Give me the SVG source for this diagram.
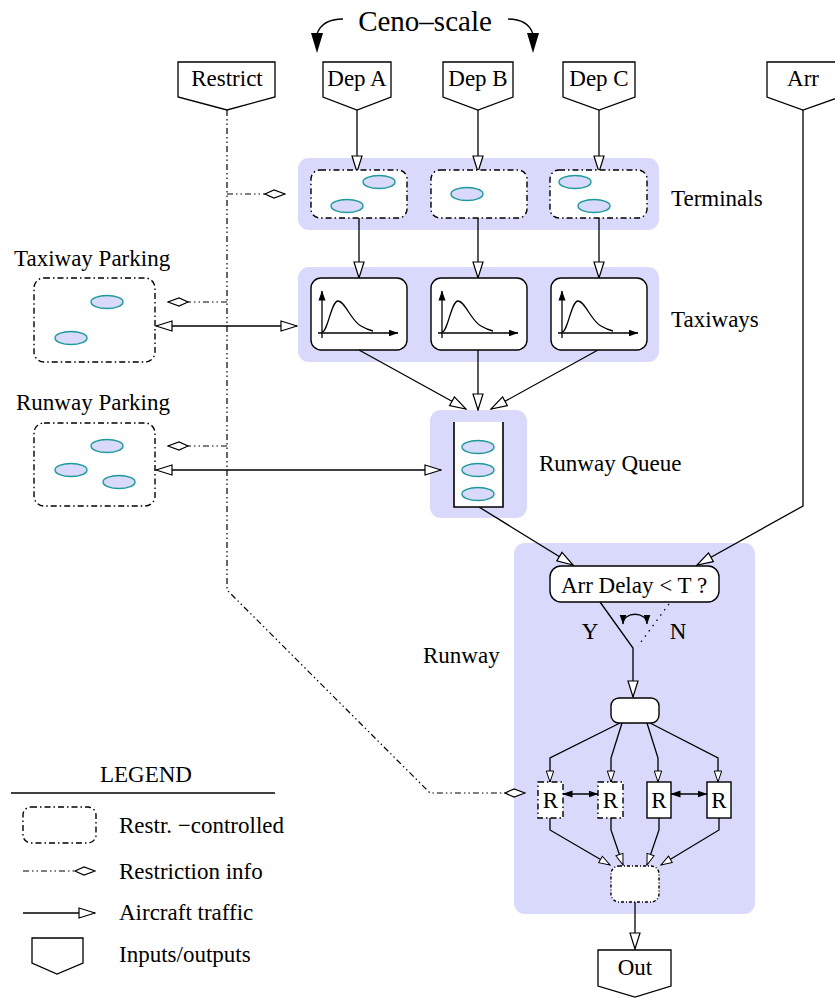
<svg xmlns="http://www.w3.org/2000/svg" width="835" height="998" viewBox="0 0 835 998">
<style>
text{font-family:"Liberation Serif","Times New Roman",serif;font-size:23px;fill:#000}
.bg{fill:#d9d9fb;stroke:none}
.ell{fill:#d9d9fb;stroke:#1a9a9a;stroke-width:1.4}
.rc{fill:#fff;stroke:#000;stroke-width:1.4;stroke-dasharray:6 3 1.5 3}
.box{fill:#fff;stroke:#000;stroke-width:1.4}
.io{fill:#fff;stroke:#000;stroke-width:1.3}
.ln{fill:none;stroke:#000;stroke-width:1.3}
.rs{fill:none;stroke:#000;stroke-width:1.2;stroke-dasharray:6 3 1.5 3 1.5 3}
.ax{fill:none;stroke:#000;stroke-width:1.3}
.c{text-anchor:middle}
</style>
<defs>
<marker id="oa" markerUnits="userSpaceOnUse" markerWidth="18" markerHeight="12" viewBox="0 0 18 12" refX="17" refY="6" orient="auto-start-reverse">
<path d="M1,1 L17,6 L1,11 Z" fill="#fff" stroke="#000" stroke-width="1.2"/>
</marker>
<marker id="os" markerUnits="userSpaceOnUse" markerWidth="13" markerHeight="10" viewBox="0 0 13 10" refX="12" refY="5" orient="auto">
<path d="M1,1.3 L12,5 L1,8.7 Z" fill="#fff" stroke="#000" stroke-width="1"/>
</marker>
<marker id="dm" markerUnits="userSpaceOnUse" markerWidth="22" markerHeight="10" viewBox="0 0 22 10" refX="21" refY="5" orient="auto">
<path d="M1,5 L10,1 L21,5 L10,9 Z" fill="#fff" stroke="#000" stroke-width="1.2"/>
</marker>
<marker id="fa" markerUnits="userSpaceOnUse" markerWidth="10" markerHeight="8" viewBox="0 0 10 8" refX="9.5" refY="4" orient="auto-start-reverse">
<path d="M0,0.5 L10,4 L0,7.5 Z" fill="#000"/>
</marker>
<g id="plot">
<path class="ax" d="M11,60 V13" marker-end="url(#fa)"/>
<path class="ax" d="M7,55 H87" marker-end="url(#fa)"/>
<path class="ax" d="M11,54 C17,54 20,23 27,23 C34,23 40,43 50,48 C55,51 58,52 62,53"/>
</g>
</defs>

<!-- backgrounds -->
<g id="bg">
<rect class="bg" x="298" y="158" width="361" height="72" rx="11"/>
<rect class="bg" x="298" y="267" width="361" height="95" rx="11"/>
<rect class="bg" x="430" y="410" width="97" height="108" rx="11"/>
<rect class="bg" x="514" y="543" width="241" height="371" rx="11"/>
</g>

<!-- title -->
<g id="ceno">
<text x="425" y="31" class="c" style="font-size:29px">Ceno–scale</text>
<path class="ln" d="M343,19 Q322,19 317,34"/>
<path d="M311,33 L323,33 L317,53 Z" fill="#000"/>
<path class="ln" d="M508,19 Q528,19 533,34"/>
<path d="M527,33 L539,33 L533,53 Z" fill="#000"/>
</g>

<!-- connectors -->
<g id="connectors">
<path class="ln" d="M357,110 V172" marker-end="url(#oa)"/>
<path class="ln" d="M478,110 V172" marker-end="url(#oa)"/>
<path class="ln" d="M599,110 V172" marker-end="url(#oa)"/>
<path class="ln" d="M359,218 V278" marker-end="url(#oa)"/>
<path class="ln" d="M478,218 V278" marker-end="url(#oa)"/>
<path class="ln" d="M599,218 V278" marker-end="url(#oa)"/>
<path class="ln" d="M359,350 L466,409" marker-end="url(#oa)"/>
<path class="ln" d="M478,350 V410" marker-end="url(#oa)"/>
<path class="ln" d="M598,350 L491,409" marker-end="url(#oa)"/>
<path class="ln" d="M156,326 H297" marker-start="url(#oa)" marker-end="url(#oa)"/>
<path class="ln" d="M156,470 H441" marker-start="url(#oa)" marker-end="url(#oa)"/>
<path class="ln" d="M479,507 L573,565" marker-end="url(#oa)"/>
<path class="ln" d="M803,110 V506 L697,565" marker-end="url(#oa)"/>
<path class="ln" d="M600,602 L633,648 V697" marker-end="url(#oa)"/>
<path class="ln" d="M669,604 L638,646" style="stroke-dasharray:1.5 5"/>
<path class="ln" d="M623,624 C623,611 647,611 647,624" marker-start="url(#fa)" marker-end="url(#fa)"/>
<path class="ln" d="M620,723 L550,758 V782" marker-end="url(#os)"/>
<path class="ln" d="M622,723 L611,758 V782" marker-end="url(#os)"/>
<path class="ln" d="M647,723 L658,758 V782" marker-end="url(#os)"/>
<path class="ln" d="M650,723 L718,758 V782" marker-end="url(#os)"/>
<path class="ln" d="M563,794 H598" marker-start="url(#fa)" marker-end="url(#fa)"/>
<path class="ln" d="M671,794 H707" marker-start="url(#fa)" marker-end="url(#fa)"/>
<path class="ln" d="M550,818 V830 L610,865" marker-end="url(#os)"/>
<path class="ln" d="M611,818 V830 L623,865" marker-end="url(#os)"/>
<path class="ln" d="M659,818 V830 L647,865" marker-end="url(#os)"/>
<path class="ln" d="M719,818 V830 L661,865" marker-end="url(#os)"/>
<path class="ln" d="M635,902 V949" marker-end="url(#oa)"/>
<path class="rs" d="M227,110 V590 L430,793 H525" marker-end="url(#dm)"/>
<path class="rs" d="M227,194 H285" marker-end="url(#dm)"/>
<path class="rs" d="M227,302 H168" marker-end="url(#dm)"/>
<path class="rs" d="M227,446 H168" marker-end="url(#dm)"/>
</g>

<!-- inputs -->
<g id="restrict"><path class="io" d="M178,62 H275 V97 L227,110 L178,97 Z"/><text x="227" y="86" class="c">Restrict</text></g>
<g id="depA"><path class="io" d="M323,62 H391 V97 L357,110 L323,97 Z"/><text x="357" y="86" class="c">Dep A</text></g>
<g id="depB"><path class="io" d="M443,62 H513 V97 L478,110 L443,97 Z"/><text x="478" y="86" class="c">Dep B</text></g>
<g id="depC"><path class="io" d="M563,62 H635 V97 L599,110 L563,97 Z"/><text x="599" y="86" class="c">Dep C</text></g>
<g id="arr"><path class="io" d="M767,62 H840 V97 L803,110 L767,97 Z"/><text x="803" y="86" class="c">Arr</text></g>

<!-- terminals -->
<g id="terminalA"><rect class="rc" x="311" y="170" width="96" height="48" rx="9"/><ellipse class="ell" cx="379" cy="182" rx="16" ry="6.5"/><ellipse class="ell" cx="347" cy="206" rx="16" ry="6.5"/></g>
<g id="terminalB"><rect class="rc" x="431" y="170" width="96" height="48" rx="9"/><ellipse class="ell" cx="467" cy="194" rx="16" ry="6.5"/></g>
<g id="terminalC"><rect class="rc" x="550" y="170" width="97" height="48" rx="9"/><ellipse class="ell" cx="575" cy="182" rx="16" ry="6.5"/><ellipse class="ell" cx="594" cy="206" rx="16" ry="6.5"/></g>
<text x="671" y="206">Terminals</text>

<!-- taxiways -->
<g id="taxiA"><rect class="box" x="311" y="278" width="96" height="72" rx="10"/><use href="#plot" x="311" y="278"/></g>
<g id="taxiB"><rect class="box" x="431" y="278" width="96" height="72" rx="10"/><use href="#plot" x="431" y="278"/></g>
<g id="taxiC"><rect class="box" x="551" y="278" width="96" height="72" rx="10"/><use href="#plot" x="551" y="278"/></g>
<text x="671" y="327">Taxiways</text>

<!-- parking -->
<g id="taxiParking"><text x="14" y="266">Taxiway Parking</text><rect class="rc" x="34" y="278" width="121" height="84" rx="10"/><ellipse class="ell" cx="107" cy="302" rx="16" ry="6.5"/><ellipse class="ell" cx="71" cy="338" rx="16" ry="6.5"/></g>
<g id="runwayParking"><text x="16" y="410">Runway Parking</text><rect class="rc" x="34" y="423" width="121" height="83" rx="10"/><ellipse class="ell" cx="107" cy="446" rx="16" ry="6.5"/><ellipse class="ell" cx="71" cy="470" rx="16" ry="6.5"/><ellipse class="ell" cx="119" cy="482" rx="16" ry="6.5"/></g>

<!-- runway queue -->
<g id="runwayQueue"><rect x="454" y="422" width="49" height="85" fill="#fff"/><path class="ln" style="stroke-width:1.6" d="M454,422 V507 H503 V422"/><ellipse class="ell" cx="478" cy="447" rx="16" ry="6.5"/><ellipse class="ell" cx="478" cy="470" rx="16" ry="6.5"/><ellipse class="ell" cx="478" cy="494" rx="16" ry="6.5"/><text x="539" y="471">Runway Queue</text></g>

<!-- runway -->
<text x="423" y="663">Runway</text>
<g id="decision"><rect class="box" x="550" y="566" width="169" height="36" rx="11"/><text x="634" y="593" class="c">Arr Delay &lt; T ?</text></g>
<text x="590" y="639" class="c">Y</text>
<text x="678" y="639" class="c">N</text>
<g id="split"><rect class="box" x="611" y="698" width="48" height="25" rx="8"/></g>
<g id="R1"><rect class="rc" x="538" y="782" width="25" height="36"/><text x="550.5" y="808" class="c">R</text></g>
<g id="R2"><rect class="rc" x="598" y="782" width="25" height="36"/><text x="610.5" y="808" class="c">R</text></g>
<g id="R3"><rect class="box" x="647" y="782" width="24" height="36"/><text x="659" y="808" class="c">R</text></g>
<g id="R4"><rect class="box" x="707" y="782" width="24" height="36"/><text x="719" y="808" class="c">R</text></g>
<g id="merge"><rect class="box" style="stroke-dasharray:3 2 1 2" x="611" y="866" width="48" height="36" rx="8"/></g>
<g id="out"><path class="io" d="M598,950 H671 V986 L635,997 L598,986 Z"/><text x="635" y="975" class="c">Out</text></g>

<!-- legend -->
<g id="legend">
<text x="146" y="782" class="c">LEGEND</text>
<path class="ln" d="M11,793 H275"/>
<rect class="rc" x="23" y="807" width="73" height="36" rx="8"/>
<text x="119" y="833">Restr. −controlled</text>
<path class="rs" d="M23,871 H95" marker-end="url(#dm)"/>
<text x="119" y="879">Restriction info</text>
<path class="ln" d="M23,913 H95" marker-end="url(#oa)"/>
<text x="119" y="920">Aircraft traffic</text>
<path class="io" d="M32,938 H83 V963 L57,974 L32,963 Z"/>
<text x="119" y="962">Inputs/outputs</text>
</g>
</svg>
